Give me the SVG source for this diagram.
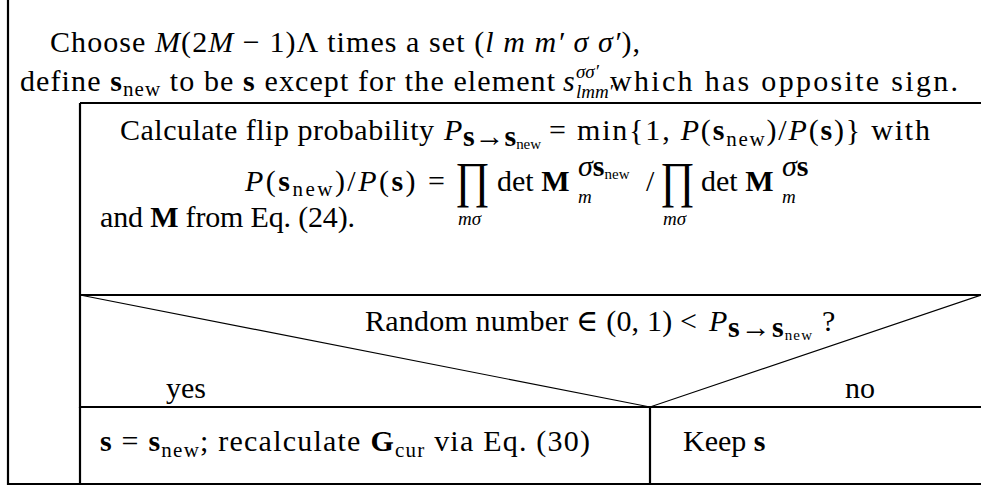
<svg xmlns="http://www.w3.org/2000/svg" width="981" height="486" viewBox="0 0 981 486">
<style>
text { font-family: "Liberation Serif", "DejaVu Serif", serif; font-size: 30px; fill: #000; }
.i { font-style: italic; }
.b { font-weight: bold; }
.s { font-size: 21px; }
.sc { font-size: 19px; }
.ss { font-size: 15px; }
.big { font-size: 50px; }
.box { fill: none; stroke: #000; stroke-width: 2.2; }
.diag { fill: none; stroke: #000; stroke-width: 1.2; }
</style>
<rect width="981" height="486" fill="#fff"/>
<g id="loop">
  <path class="box" d="M8,0 V484 H981"/>
  <text x="50" y="52" textLength="590" lengthAdjust="spacing">Choose <tspan class="i">M</tspan>(2<tspan class="i">M</tspan> − 1)Λ times a set (<tspan class="i">l m m′ σ σ′</tspan>),</text>
  <text x="20" y="91" textLength="535" lengthAdjust="spacing">define <tspan class="b">s</tspan><tspan class="s" dy="5">new</tspan><tspan dy="-5"> to be </tspan><tspan class="b">s</tspan> except for the element</text>
  <text x="563" y="91" class="i">s</text>
  <text x="576" y="78" class="sc i">σσ′</text>
  <text x="576" y="98" class="sc i">lmm′</text>
  <text x="610" y="91" textLength="348" lengthAdjust="spacing">which has opposite sign.</text>
</g>
<g id="calc">
  <path class="box" d="M80,103 H981 M80,103 V295"/>
  <text x="120" y="140" textLength="314" lengthAdjust="spacing">Calculate flip probability</text>
  <text x="444" y="140" class="i">P</text>
  <text x="463" y="146" class="b" font-size="21" textLength="78" lengthAdjust="spacing">s→s<tspan class="ss" font-weight="normal" dy="3">new</tspan></text>
  <text x="549" y="140" textLength="381" lengthAdjust="spacing">= min{1, <tspan class="i">P</tspan>(<tspan class="b">s</tspan><tspan class="s" dy="6">new</tspan><tspan dy="-6">)/</tspan><tspan class="i">P</tspan>(<tspan class="b">s</tspan>)} with</text>
  <text x="245" y="191" textLength="200" lengthAdjust="spacing"><tspan class="i">P</tspan>(<tspan class="b">s</tspan><tspan class="s" dy="5">new</tspan><tspan dy="-5">)/</tspan><tspan class="i">P</tspan>(<tspan class="b">s</tspan>) =</text>
  <text x="455" y="197" class="big" textLength="35" lengthAdjust="spacingAndGlyphs">∏</text>
  <text x="458" y="225" class="sc i">mσ</text>
  <text x="497" y="191">det <tspan class="b">M</tspan></text>
  <text x="578" y="176" font-size="20"><tspan class="i">σ</tspan><tspan class="b">s</tspan><tspan class="ss" dy="3">new</tspan></text>
  <text x="578" y="203" class="sc i">m</text>
  <text x="646" y="191">/</text>
  <text x="660" y="197" class="big" textLength="35" lengthAdjust="spacingAndGlyphs">∏</text>
  <text x="663" y="225" class="sc i">mσ</text>
  <text x="701" y="191">det <tspan class="b">M</tspan></text>
  <text x="782" y="176" font-size="20"><tspan class="i">σ</tspan><tspan class="b">s</tspan></text>
  <text x="782" y="203" class="sc i">m</text>
  <text x="100" y="227" textLength="255" lengthAdjust="spacing">and <tspan class="b">M</tspan> from Eq. (24).</text>
</g>
<g id="decision">
  <path class="box" d="M80,295 H981 M80,295 V407 H981"/>
  <path class="diag" d="M80,295 L650,407 L981,295"/>
  <text x="365" y="331" textLength="332" lengthAdjust="spacing">Random number ∈ (0, 1) &lt;</text>
  <text x="709" y="331" class="i">P</text>
  <text x="728" y="337" class="b" font-size="21" textLength="84" lengthAdjust="spacing">s→s<tspan class="ss" font-weight="normal" dy="3">new</tspan></text>
  <text x="822" y="331">?</text>
  <text x="166" y="398">yes</text>
  <text x="845" y="398">no</text>
</g>
<g id="yes-branch">
  <path class="box" d="M80,407 V484"/>
  <text x="100" y="451" textLength="490" lengthAdjust="spacing"><tspan class="b">s</tspan> = <tspan class="b">s</tspan><tspan class="s" dy="6">new</tspan><tspan dy="-6">; recalculate </tspan><tspan class="b">G</tspan><tspan class="s" dy="6">cur</tspan><tspan dy="-6"> via Eq. (30)</tspan></text>
</g>
<g id="no-branch">
  <path class="box" d="M650,407 V484"/>
  <text x="683" y="451">Keep <tspan class="b">s</tspan></text>
</g>
</svg>
